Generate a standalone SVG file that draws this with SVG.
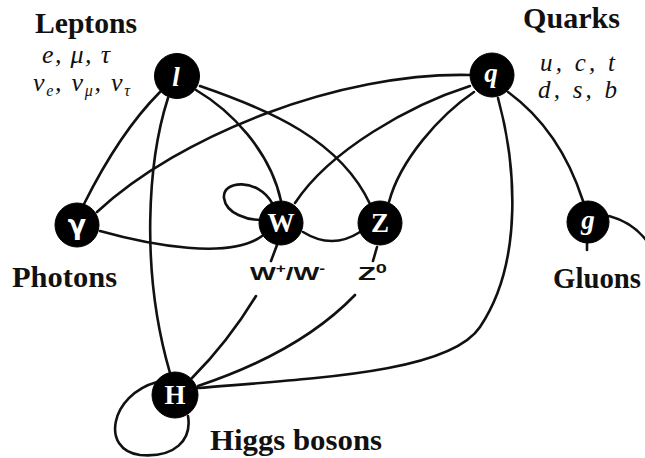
<svg xmlns="http://www.w3.org/2000/svg" width="645" height="458" viewBox="0 0 645 458">
<style>
.e{fill:none;stroke:#111;stroke-width:2.6;stroke-linecap:round}
.n{fill:#000;stroke:#000;stroke-width:1}
.nt{fill:#fff;font-family:"Liberation Serif",serif;font-weight:bold;font-size:27px;text-anchor:middle}
.it{font-style:italic}
.t{fill:#111;font-family:"Liberation Serif",serif;font-weight:bold;font-size:30px}
.s{fill:#111;font-family:"Liberation Serif",serif;font-style:italic;font-size:26px}
.q{fill:#111;font-family:"Liberation Serif",serif;font-style:italic;font-size:25px}
.b{fill:#111;font-family:"Liberation Sans",sans-serif;font-weight:bold;font-size:19px}
</style>
<rect width="645" height="458" fill="#fff"/>
<g id="connectors">
<path class="e" d="M160,92 Q120,132 84,204"/>
<path class="e" d="M168,98 C148,160 140,270 170,373"/>
<path class="e" d="M196,90 C230,110 270,150 281,201"/>
<path class="e" d="M200,86 C270,110 340,140 370,204"/>
<path class="e" d="M470,75 C340,72 180,135 97,212"/>
<path class="e" d="M470,86 C410,105 330,150 295,203"/>
<path class="e" d="M474,92 C440,115 400,160 389,202"/>
<path class="e" d="M498,98 C515,160 525,260 480,327 C450,372 320,378 198,388"/>
<path class="e" d="M508,92 Q560,130 583,201"/>
<path class="e" d="M100,231 C150,245 230,260 262,236"/>
<path class="e" d="M303,232 Q332,250 360,232"/>
<path class="e" d="M272,203 C258,178 222,180 224,198 C226,214 248,220 261,220"/>
<path class="e" d="M277,245 L271,261"/>
<path class="e" d="M256,296 Q228,342 192,378"/>
<path class="e" d="M377,247 L373,261"/>
<path class="e" d="M355,295 Q300,352 198,386"/>
<path class="e" d="M157,382 C110,395 100,450 140,455 C175,458 192,440 188,416"/>
<path class="e" d="M609,216 Q632,222 646,240"/>
<path class="e" d="M587,243 L587,250"/>
</g>
<g id="node-l"><circle class="n" cx="177" cy="76" r="22.5"/><text class="nt it" x="176" y="86" font-size="29">l</text></g>
<g id="node-q"><circle class="n" cx="492" cy="75" r="22"/><text class="nt it" x="491" y="82" font-size="29">q</text></g>
<g id="node-gamma"><circle class="n" cx="77" cy="225" r="22"/><text class="nt" x="77" y="234" style="font-family:'DejaVu Sans',sans-serif" font-size="25">γ</text></g>
<g id="node-W"><circle class="n" cx="281" cy="223" r="22"/><text class="nt" x="281" y="232">W</text></g>
<g id="node-Z"><circle class="n" cx="380" cy="223" r="22"/><text class="nt" x="380" y="232">Z</text></g>
<g id="node-g"><circle class="n" cx="588" cy="222" r="21"/><text class="nt it" x="588" y="229" font-size="29">g</text></g>
<g id="node-H"><circle class="n" cx="175" cy="395" r="23"/><text class="nt" x="175" y="404">H</text></g>
<g id="labels">
<text class="t" x="35" y="33" textLength="102" lengthAdjust="spacingAndGlyphs">Leptons</text>
<text class="s" x="42" y="63" textLength="68">e, μ, τ</text>
<text class="s" x="33" y="91" textLength="97">ν<tspan font-size="16" dy="5">e</tspan><tspan dy="-5">, ν</tspan><tspan font-size="16" dy="5">μ</tspan><tspan dy="-5">, ν</tspan><tspan font-size="16" dy="5">τ</tspan></text>
<text class="t" x="523" y="28" textLength="97" lengthAdjust="spacingAndGlyphs">Quarks</text>
<text class="q" x="540" y="71" textLength="75">u, c, t</text>
<text class="q" x="538" y="98" textLength="79">d, s, b</text>
<text class="t" x="12" y="287" textLength="105" lengthAdjust="spacingAndGlyphs">Photons</text>
<text class="t" x="553" y="288" textLength="88" lengthAdjust="spacingAndGlyphs">Gluons</text>
<text class="t" x="210" y="450" textLength="172" lengthAdjust="spacingAndGlyphs">Higgs bosons</text>
<text class="b" x="250" y="280" textLength="75" lengthAdjust="spacingAndGlyphs">W<tspan font-size="12" dy="-7">+</tspan><tspan dy="7">/W</tspan><tspan font-size="12" dy="-7">-</tspan></text>
<text class="b" x="358" y="280" textLength="29" lengthAdjust="spacingAndGlyphs">Z<tspan font-size="13" dy="-7">0</tspan></text>
</g>
</svg>
